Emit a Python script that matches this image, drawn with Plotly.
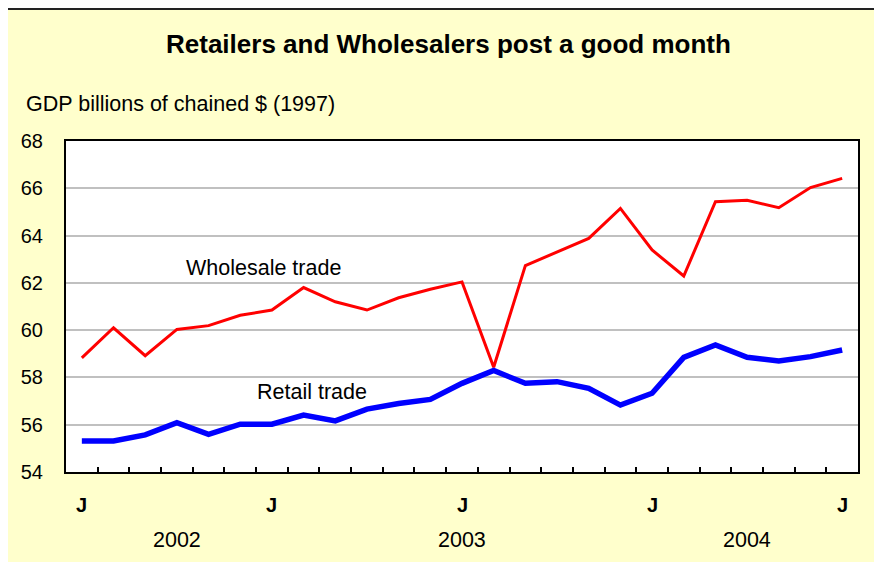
import plotly.graph_objects as go

# ---- data ----
months = list(range(25))  # monthly categories, Jan 2002 .. Jan 2004
wholesale = [58.83, 60.10, 58.92, 60.03, 60.19, 60.63, 60.85, 61.80, 61.20, 60.85,
             61.37, 61.73, 62.04, 58.43, 62.73, 63.32, 63.88, 65.15, 63.39, 62.29,
             65.43, 65.49, 65.18, 66.03, 66.42]
retail = [55.31, 55.31, 55.57, 56.09, 55.59, 56.02, 56.02, 56.41, 56.16, 56.66,
          56.90, 57.07, 57.75, 58.29, 57.75, 57.82, 57.54, 56.83, 57.33, 58.85,
          59.37, 58.85, 58.70, 58.88, 59.16]
month_tick_pos = [0, 6, 12, 18, 24]
month_tick_text = ["J", "J", "J", "J", "J"]
year_pos = [3, 12, 21]
year_text = ["2002", "2003", "2004"]
y_ticks = [54, 56, 58, 60, 62, 64, 66, 68]

FONT = "Arial, Liberation Sans, sans-serif"
OFF = 8  # page body margin
VW, VH = 882, 562
W, H = VW - OFF, VH - OFF
# plot area in screen pixels
SX0, SX1, SY0, SY1 = 66, 858, 141, 472
L = SX0 - OFF
T = SY0 - OFF
R = W - (SX1 - OFF)
B = H - (SY1 - OFF)
pw, ph = SX1 - SX0, SY1 - SY0

def px_x(p):  # screen x -> paper
    return (p - SX0) / pw

def px_y(p):  # screen y -> paper
    return (SY1 - p) / ph

fig = go.Figure()
fig.add_trace(go.Scatter(x=months, y=wholesale, mode="lines",
                         line=dict(color="#FF0000", width=3), showlegend=False))
fig.add_trace(go.Scatter(x=months, y=retail, mode="lines",
                         line=dict(color="#0000FF", width=5.5), showlegend=False))

shapes = [
    dict(type="rect", xref="paper", yref="paper", layer="below",
         x0=px_x(5), x1=px_x(VW + 20), y0=px_y(VH + 20), y1=px_y(9),
         fillcolor="#FFFFCC", line=dict(color="#222222", width=2)),
    dict(type="rect", xref="paper", yref="paper", layer="below",
         x0=0, x1=1, y0=0, y1=1, fillcolor="white", line=dict(width=0)),
]

LAB = 21.5
annotations = []
for p, t in zip(month_tick_pos, month_tick_text):
    annotations.append(dict(x=p, y=px_y(505), xref="x", yref="paper", text="<b>%s</b>" % t,
                            xanchor="center", yanchor="middle",
                            showarrow=False, font=dict(size=20, color="black", family=FONT)))
for p, t in zip(year_pos, year_text):
    annotations.append(dict(x=p, y=px_y(540), xref="x", yref="paper", text=t,
                            xanchor="center", yanchor="middle",
                            showarrow=False, font=dict(size=LAB, color="black", family=FONT)))
annotations.append(dict(x=5.72, y=62.63, xref="x", yref="y", text="Wholesale trade",
                        xanchor="center", yanchor="middle",
                        showarrow=False, font=dict(size=LAB, color="black", family=FONT)))
annotations.append(dict(x=7.27, y=57.38, xref="x", yref="y", text="Retail trade",
                        xanchor="center", yanchor="middle",
                        showarrow=False, font=dict(size=LAB, color="black", family=FONT)))
annotations.append(dict(x=px_x(24), y=px_y(104), xref="paper", yref="paper",
                        xanchor="left", yanchor="middle", text="GDP billions of chained $ (1997)",
                        showarrow=False, font=dict(size=LAB, color="black", family=FONT)))
annotations.append(dict(x=px_x(448), y=px_y(44), xref="paper", yref="paper",
                        xanchor="center", yanchor="middle",
                        text="<b>Retailers and Wholesalers post a good month</b>",
                        showarrow=False, font=dict(size=26, color="black", family=FONT)))

fig.update_layout(
    width=W, height=H,
    margin=dict(l=L, r=R, t=T, b=B),
    paper_bgcolor="#FFFFCC", plot_bgcolor="rgba(0,0,0,0)",
    font=dict(family=FONT, color="black"),
    shapes=shapes, annotations=annotations,
    xaxis=dict(range=[-0.5, 24.5], showgrid=False, zeroline=False,
               showline=True, mirror=True, linecolor="black", linewidth=2,
               tickmode="array", tickvals=[i + 0.5 for i in range(24)],
               ticktext=[""] * 24, ticks="inside", ticklen=5, tickwidth=1.5,
               tickcolor="black"),
    yaxis=dict(range=[54, 68], tickmode="array", tickvals=y_ticks,
               showgrid=True, gridcolor="#C0C0C0", gridwidth=2, zeroline=False,
               showline=True, mirror=True, linecolor="black", linewidth=2,
               ticks="", tickfont=dict(size=20, color="black", family=FONT),
               ticklabelstandoff=17),
)

fig.write_html("out.html")
